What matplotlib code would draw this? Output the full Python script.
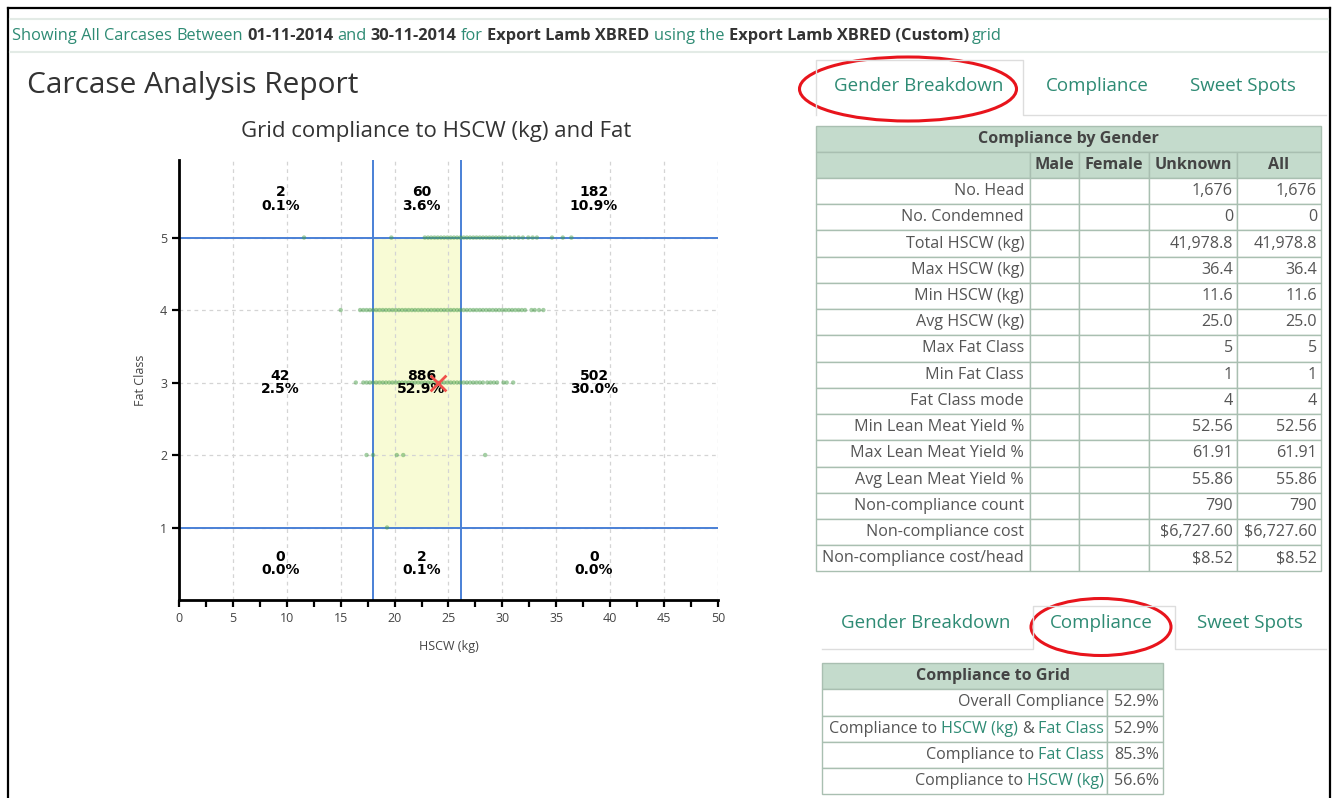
import matplotlib
matplotlib.use("Agg")
import matplotlib.pyplot as plt
from matplotlib.patches import Rectangle, Ellipse
from matplotlib.ticker import MultipleLocator

plt.rcParams['font.family'] = ['Open Sans', 'DejaVu Sans']

W, H = 1336, 798

# HSCW (kg) of the carcases visible on each fat class line
fat5_hscw = [11.6, 19.7, 22.8, 23.1, 23.4, 23.7, 24.0, 24.3, 24.6, 24.9, 25.2, 25.5,
             25.8, 26.1, 26.4, 26.7, 27.0, 27.3, 27.6, 27.9, 28.2, 28.5, 28.8, 29.1,
             29.4, 29.7, 30.0, 30.3, 30.7, 31.1, 31.5, 31.9, 32.4, 32.8, 33.2, 34.6,
             35.6, 36.4]
fat4_hscw = [15.0, 16.8, 17.1, 17.4, 17.7, 18.0, 18.3, 18.6, 18.9, 19.2, 19.5, 19.8,
             20.1, 20.4, 20.7, 21.0, 21.3, 21.6, 21.9, 22.2, 22.5, 22.8, 23.1, 23.4,
             23.7, 24.0, 24.3, 24.6, 24.9, 25.2, 25.5, 25.8, 26.1, 26.4, 26.7, 27.0,
             27.3, 27.6, 27.9, 28.2, 28.5, 28.8, 29.1, 29.4, 29.7, 30.0, 30.3, 30.6,
             30.9, 31.2, 31.5, 31.8, 32.1, 32.7, 33.0, 33.4, 33.8]
fat3_hscw = [16.4, 17.1, 17.4, 17.7, 18.0, 18.3, 18.6, 18.9, 19.2, 19.5, 19.8, 20.1,
             20.4, 20.7, 21.0, 21.3, 21.6, 21.9, 22.2, 22.5, 22.8, 23.1, 23.4, 23.7,
             24.0, 24.3, 24.6, 24.9, 25.2, 25.5, 25.8, 26.1, 26.4, 26.7, 27.0, 27.3,
             27.6, 27.9, 28.2, 28.6, 28.9, 29.2, 29.5, 30.1, 30.4, 31.0]
fat2_hscw = [17.4, 18.0, 20.2, 20.8, 28.4]
fat1_hscw = [19.3]

# grid limits (HSCW and fat class)
hscw_limiti = [0, 18, 26.2, 50]
fat_limiti = [0, 1, 5, 6.07]
media = [24.0, 3.0]

# counts per zone: bottom row, middle row, top row
conteggi = [[0, 2, 0], [42, 886, 502], [2, 60, 182]]
percentuali = [["0.0%", "0.1%", "0.0%"], ["2.5%", "52.9%", "30.0%"], ["0.1%", "3.6%", "10.9%"]]

# tables
righe_genere = ["No. Head", "No. Condemned", "Total HSCW (kg)", "Max HSCW (kg)", "Min HSCW (kg)",
                "Avg HSCW (kg)", "Max Fat Class", "Min Fat Class", "Fat Class mode",
                "Min Lean Meat Yield %", "Max Lean Meat Yield %", "Avg Lean Meat Yield %",
                "Non-compliance count", "Non-compliance cost", "Non-compliance cost/head"]
valori_unknown = ["1,676", "0", "41,978.8", "36.4", "11.6", "25.0", "5", "1", "4",
                  "52.56", "61.91", "55.86", "790", "$6,727.60", "$8.52"]
valori_all = ["1,676", "0", "41,978.8", "36.4", "11.6", "25.0", "5", "1", "4",
              "52.56", "61.91", "55.86", "790", "$6,727.60", "$8.52"]
colonne_genere = ["", "Male", "Female", "Unknown", "All"]
compliance_valori = ["52.9%", "52.9%", "85.3%", "56.6%"]

TEAL = '#2e8b74'
GREY = '#555555'
DARK = '#333333'
HEAD_BG = '#c4dbcc'
BORDER = '#a9bfb1'
FS = 11.6

fig = plt.figure(figsize=(W / 100, H / 100), dpi=100)
fig.patch.set_facecolor('white')

page = fig.add_axes([0, 0, 1, 1])
page.set_xlim(0, W)
page.set_ylim(H, 0)
page.axis('off')
r = fig.canvas.get_renderer()


def scrivi(x, y, pezzi, size, ha='left'):
    # pezzi: (text, colour, bold, gap after in px, None = one space)
    spazio = size * 0.26 * 100 / 72
    seq = pezzi if ha == 'left' else pezzi[::-1]
    for i, (testo, col, bold, gap) in enumerate(seq):
        t = page.text(x, y, testo, color=col, fontsize=size, ha=ha, va='center',
                      fontweight='bold' if bold else 'normal')
        w = t.get_window_extent(r).width
        if ha == 'left':
            x = x + w + (spazio if gap is None else gap)
        else:
            nxt = seq[i + 1] if i + 1 < len(seq) else None
            g = 0 if nxt is None else (spazio if nxt[3] is None else nxt[3])
            x = x - w - g


# page frame
page.plot([8, 1330], [8, 8], color='black', lw=1.6)
page.plot([8, 8], [8, 798], color='black', lw=1.6)
page.plot([1330, 1330], [8, 798], color='black', lw=1.6)
page.plot([10, 1328], [19, 19], color='#e3ebe6', lw=1.5)
page.plot([10, 1328], [52, 52], color='#e3ebe6', lw=1.5)

scrivi(12, 36, [("Showing All Carcases", TEAL, False, None), ("Between", TEAL, False, None),
                ("01-11-2014", DARK, True, None), ("and", TEAL, False, None),
                ("30-11-2014", DARK, True, None), ("for", TEAL, False, None),
                ("Export Lamb XBRED", DARK, True, None), ("using the", TEAL, False, None),
                ("Export Lamb XBRED (Custom)", DARK, True, 3), ("grid", TEAL, False, 0)], 11.8)

page.text(27, 85, "Carcase Analysis Report", fontsize=21.5, color=DARK, va='center')
page.text(436, 131, "Grid compliance to HSCW (kg) and Fat", fontsize=16, color=DARK,
          ha='center', va='center')

# top tabs
page.plot([816, 816, 1023, 1023, 1326], [115, 60, 60, 115, 115], color='#dddddd', lw=1)
page.text(919, 86, "Gender Breakdown", fontsize=13.5, color=TEAL, ha='center', va='center')
page.text(1097, 86, "Compliance", fontsize=13.5, color=TEAL, ha='center', va='center')
page.text(1243, 86, "Sweet Spots", fontsize=13.5, color=TEAL, ha='center', va='center')
page.add_patch(Ellipse((908, 89), 217, 64, fill=False, edgecolor='#e8141c', lw=2.2))

# table: compliance by gender
cx = [816, 1030, 1079, 1149, 1237, 1321]
rh = 26.23
page.add_patch(Rectangle((cx[0], 126), cx[-1] - cx[0], 26, facecolor=HEAD_BG, edgecolor=BORDER, lw=1))
page.text((cx[0] + cx[-1]) / 2, 139, "Compliance by Gender", fontsize=FS, fontweight='bold',
          color='#444444', ha='center', va='center')
for j in range(5):
    page.add_patch(Rectangle((cx[j], 152), cx[j + 1] - cx[j], 26, facecolor=HEAD_BG,
                             edgecolor=BORDER, lw=1))
    page.text((cx[j] + cx[j + 1]) / 2, 165, colonne_genere[j], fontsize=FS, fontweight='bold',
              color='#444444', ha='center', va='center')
for i, lab in enumerate(righe_genere):
    y0 = 178 + i * rh
    for j in range(5):
        page.add_patch(Rectangle((cx[j], y0), cx[j + 1] - cx[j], rh, facecolor='white',
                                 edgecolor=BORDER, lw=1))
    yc = y0 + rh / 2
    page.text(cx[1] - 6, yc, lab, fontsize=FS, color=GREY, ha='right', va='center')
    page.text(cx[4] - 4, yc, valori_unknown[i], fontsize=FS, color=GREY, ha='right', va='center')
    page.text(cx[5] - 4, yc, valori_all[i], fontsize=FS, color=GREY, ha='right', va='center')

# bottom tabs
page.plot([822, 1033, 1033, 1175, 1175, 1326], [649, 649, 606, 606, 649, 649], color='#dddddd', lw=1)
page.text(926, 623, "Gender Breakdown", fontsize=13.5, color=TEAL, ha='center', va='center')
page.text(1101, 623, "Compliance", fontsize=13.5, color=TEAL, ha='center', va='center')
page.text(1250, 623, "Sweet Spots", fontsize=13.5, color=TEAL, ha='center', va='center')
page.add_patch(Ellipse((1101, 627), 140, 57, fill=False, edgecolor='#e8141c', lw=2.2))

# table: compliance to grid
gx = [822, 1107, 1163]
gy = [663, 689, 716, 742, 768, 794]
page.add_patch(Rectangle((gx[0], gy[0]), gx[2] - gx[0], gy[1] - gy[0], facecolor=HEAD_BG,
                         edgecolor=BORDER, lw=1))
page.text((gx[0] + gx[2]) / 2, (gy[0] + gy[1]) / 2, "Compliance to Grid", fontsize=FS,
          fontweight='bold', color='#444444', ha='center', va='center')
etichette_grid = [
    [("Overall Compliance", GREY, False, None)],
    [("Compliance to", GREY, False, None), ("HSCW (kg)", TEAL, False, None),
     ("&", GREY, False, None), ("Fat Class", TEAL, False, None)],
    [("Compliance to", GREY, False, None), ("Fat Class", TEAL, False, None)],
    [("Compliance to", GREY, False, None), ("HSCW (kg)", TEAL, False, None)],
]
for i in range(4):
    y0, y1 = gy[i + 1], gy[i + 2]
    for j in range(2):
        page.add_patch(Rectangle((gx[j], y0), gx[j + 1] - gx[j], y1 - y0, facecolor='white',
                                 edgecolor=BORDER, lw=1))
    yc = (y0 + y1) / 2
    scrivi(gx[1] - 3, yc, etichette_grid[i], FS, ha='right')
    page.text(gx[2] - 4, yc, compliance_valori[i], fontsize=FS, color=GREY, ha='right', va='center')

# chart
ax = fig.add_axes([179 / W, 1 - 600 / H, (718 - 179) / W, (600 - 160) / H])
ax.set_facecolor('none')
ax.set_xlim(hscw_limiti[0], hscw_limiti[-1])
ax.set_ylim(fat_limiti[0], fat_limiti[-1])

ax.add_patch(Rectangle((hscw_limiti[1], fat_limiti[1]), hscw_limiti[2] - hscw_limiti[1],
                       fat_limiti[2] - fat_limiti[1], facecolor='#f8fbd5', edgecolor='none', zorder=0))

ax.xaxis.set_major_locator(MultipleLocator(5))
ax.xaxis.set_minor_locator(MultipleLocator(2.5))
ax.set_yticks([1, 2, 3, 4, 5])
ax.grid(True, which='major', ls=(0, (3, 3)), color='#d4d4d4', lw=0.9, zorder=0)
ax.set_axisbelow(True)

for lim in hscw_limiti[1:3]:
    ax.axvline(lim, color='#4a80d6', lw=1.4, zorder=2)
for lim in fat_limiti[1:3]:
    ax.axhline(lim, color='#4a80d6', lw=1.4, zorder=2)

for fat, xs in [(5, fat5_hscw), (4, fat4_hscw), (3, fat3_hscw), (2, fat2_hscw), (1, fat1_hscw)]:
    ax.scatter(xs, [fat] * len(xs), s=10, color='#4a9e4a', alpha=0.5, edgecolors='none', zorder=3)

for i in range(3):
    for j in range(3):
        xc = (hscw_limiti[j] + hscw_limiti[j + 1]) / 2 + 0.4
        yc = (fat_limiti[i] + fat_limiti[i + 1]) / 2
        ax.text(xc, yc, f"{conteggi[i][j]}\n{percentuali[i][j]}", ha='center', va='center',
                fontsize=10, fontweight='bold', family='DejaVu Sans', linespacing=0.95,
                color='black', zorder=6)

# average marker on top of the labels
ax.scatter([media[0]], [media[1]], marker='x', s=130, color='#f0504a', linewidths=2, zorder=8)

for s in ['top', 'right']:
    ax.spines[s].set_visible(False)
for s in ['left', 'bottom']:
    ax.spines[s].set_linewidth(2)
    ax.spines[s].set_color('black')
ax.tick_params(which='both', direction='out', length=5, width=1.6, color='black',
               labelcolor='#444444', labelsize=9)
ax.set_xlabel("HSCW (kg)", fontsize=9, color='#444444')
ax.set_ylabel("Fat Class", fontsize=9, color='#444444')
ax.xaxis.set_label_coords(0.5, -0.09)
ax.yaxis.set_label_coords(-0.059, 0.5)

fig.savefig("out.png", dpi=100)
